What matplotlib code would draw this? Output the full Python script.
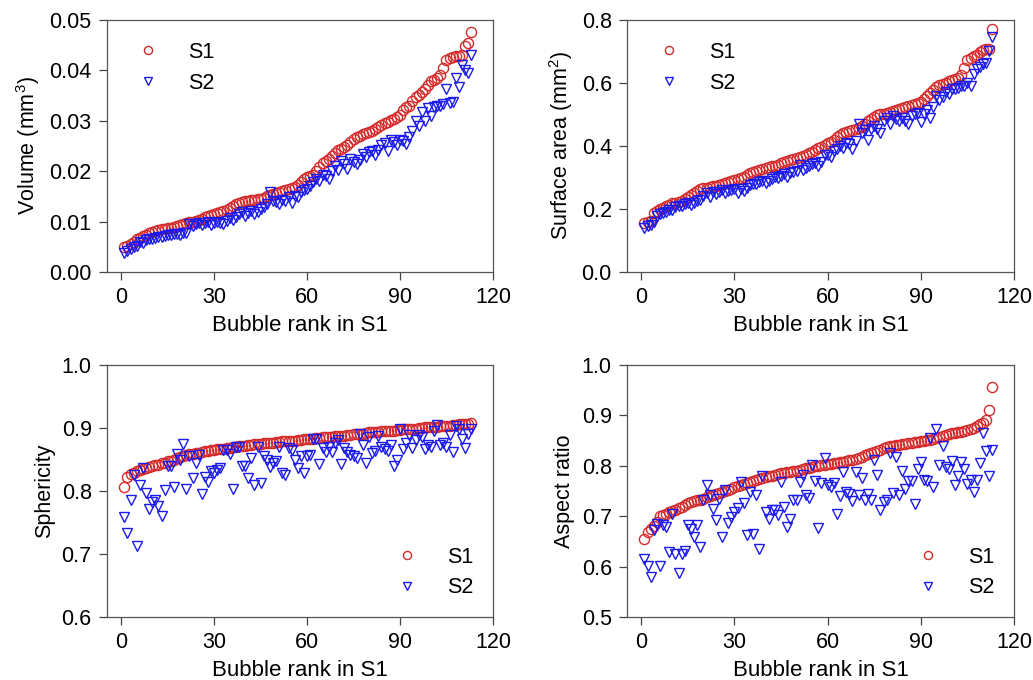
import numpy as np
import matplotlib.pyplot as plt
from matplotlib.ticker import FormatStrFormatter

plt.rcParams['font.family'] = ['Liberation Sans', 'DejaVu Sans']
plt.rcParams['mathtext.fontset'] = 'custom'
plt.rcParams['mathtext.rm'] = 'Liberation Sans'
plt.rcParams['mathtext.default'] = 'rm'

# bubble volume (mm^3), ranked by S1
vol_s1 = [0.0049, 0.0052, 0.0055, 0.0060, 0.0065, 0.0068, 0.0071, 0.0074, 0.0077, 0.0080,
          0.0082, 0.0084, 0.0085, 0.0086, 0.0087, 0.0088, 0.0090, 0.0092, 0.0093, 0.0095,
          0.0097, 0.0099, 0.0100, 0.0101, 0.0103, 0.0106, 0.0109, 0.0112, 0.0114, 0.0116,
          0.0118, 0.0120, 0.0122, 0.0124, 0.0126, 0.0130, 0.0134, 0.0137, 0.0139, 0.0140,
          0.0141, 0.0142, 0.0143, 0.0144, 0.0145, 0.0147, 0.0150, 0.0152, 0.0154, 0.0156,
          0.0158, 0.0160, 0.0162, 0.0164, 0.0166, 0.0168, 0.0172, 0.0178, 0.0184, 0.0189,
          0.0191, 0.0193, 0.0200, 0.0208, 0.0216, 0.0220, 0.0225, 0.0230, 0.0236, 0.0242,
          0.0245, 0.0248, 0.0252, 0.0258, 0.0264, 0.0268, 0.0270, 0.0273, 0.0276, 0.0278,
          0.0280, 0.0283, 0.0287, 0.0291, 0.0295, 0.0298, 0.0301, 0.0304, 0.0308, 0.0312,
          0.0322, 0.0328, 0.0329, 0.0340, 0.0348, 0.0352, 0.0358, 0.0364, 0.0372, 0.0378,
          0.0381, 0.0385, 0.0391, 0.0405, 0.0421, 0.0425, 0.0427, 0.0428, 0.0429, 0.0430,
          0.0448, 0.0455, 0.0477]
vol_s2 = [0.0037, 0.0042, 0.0046, 0.0049, 0.0052, 0.0060, 0.0058, 0.0063, 0.0066, 0.0065,
          0.0068, 0.0070, 0.0069, 0.0072, 0.0074, 0.0073, 0.0075, 0.0076, 0.0074, 0.0077,
          0.0077, 0.0096, 0.0092, 0.0096, 0.0098, 0.0093, 0.0097, 0.0099, 0.0094, 0.0098,
          0.0100, 0.0098, 0.0095, 0.0102, 0.0108, 0.0104, 0.0110, 0.0116, 0.0120, 0.0112,
          0.0118, 0.0122, 0.0115, 0.0120, 0.0125, 0.0128, 0.0135, 0.0158, 0.0140, 0.0138,
          0.0135, 0.0143, 0.0140, 0.0148, 0.0137, 0.0150, 0.0148, 0.0158, 0.0162, 0.0165,
          0.0170, 0.0178, 0.0185, 0.0180, 0.0193, 0.0190, 0.0185, 0.0200, 0.0210, 0.0203,
          0.0220, 0.0215, 0.0205, 0.0225, 0.0218, 0.0215, 0.0222, 0.0235, 0.0228, 0.0238,
          0.0240, 0.0232, 0.0242, 0.0252, 0.0255, 0.0240, 0.0262, 0.0258, 0.0252, 0.0262,
          0.0260, 0.0253, 0.0268, 0.0280, 0.0300, 0.0290, 0.0318, 0.0300, 0.0325, 0.0310,
          0.0328, 0.0330, 0.0330, 0.0333, 0.0363, 0.0335, 0.0338, 0.0385, 0.0368, 0.0410,
          0.0400, 0.0395, 0.0430]

# surface area (mm^2)
area_s1 = [0.154, 0.158, 0.162, 0.186, 0.195, 0.200, 0.204, 0.208, 0.213, 0.218,
           0.220, 0.223, 0.226, 0.232, 0.239, 0.243, 0.250, 0.256, 0.262, 0.266,
           0.268, 0.270, 0.272, 0.274, 0.276, 0.279, 0.282, 0.285, 0.289, 0.292,
           0.295, 0.298, 0.302, 0.308, 0.313, 0.316, 0.320, 0.323, 0.326, 0.329,
           0.332, 0.335, 0.338, 0.341, 0.345, 0.348, 0.351, 0.354, 0.358, 0.361,
           0.365, 0.369, 0.373, 0.378, 0.382, 0.387, 0.393, 0.398, 0.403, 0.408,
           0.414, 0.420, 0.427, 0.434, 0.440, 0.445, 0.449, 0.452, 0.454, 0.456,
           0.463, 0.470, 0.478, 0.486, 0.493, 0.497, 0.500, 0.503, 0.506, 0.509,
           0.512, 0.515, 0.518, 0.521, 0.525, 0.528, 0.531, 0.534, 0.537, 0.541,
           0.550, 0.558, 0.567, 0.578, 0.588, 0.593, 0.597, 0.601, 0.605, 0.610,
           0.613, 0.617, 0.625, 0.648, 0.673, 0.680, 0.685, 0.689, 0.697, 0.705,
           0.708, 0.707, 0.770]
area_s2 = [0.140, 0.145, 0.150, 0.160, 0.178, 0.185, 0.188, 0.192, 0.198, 0.196,
           0.205, 0.210, 0.208, 0.215, 0.220, 0.212, 0.218, 0.225, 0.230, 0.240,
           0.250, 0.238, 0.255, 0.248, 0.255, 0.260, 0.250, 0.258, 0.260, 0.262,
           0.252, 0.265, 0.258, 0.268, 0.275, 0.278, 0.280, 0.286, 0.290, 0.282,
           0.288, 0.295, 0.300, 0.298, 0.305, 0.310, 0.303, 0.315, 0.318, 0.322,
           0.340, 0.325, 0.330, 0.335, 0.342, 0.345, 0.338, 0.350, 0.370, 0.372,
           0.365, 0.385, 0.390, 0.400, 0.395, 0.410, 0.405, 0.390, 0.415, 0.470,
           0.440, 0.450, 0.420, 0.455, 0.462, 0.455, 0.440, 0.480, 0.490, 0.470,
           0.495, 0.485, 0.480, 0.490, 0.480, 0.470, 0.495, 0.500, 0.505, 0.475,
           0.500, 0.515, 0.490, 0.525, 0.560, 0.545, 0.555, 0.570, 0.565, 0.580,
           0.580, 0.585, 0.590, 0.592, 0.600, 0.590, 0.630, 0.645, 0.650, 0.660,
           0.665, 0.700, 0.745]

# sphericity
sph_s1 = [0.807, 0.822, 0.827, 0.829, 0.831, 0.833, 0.835, 0.836, 0.838, 0.839,
          0.841, 0.842, 0.844, 0.845, 0.847, 0.848, 0.850, 0.852, 0.854, 0.856,
          0.857, 0.858, 0.859, 0.860, 0.861, 0.862, 0.863, 0.864, 0.865, 0.865,
          0.866, 0.867, 0.867, 0.868, 0.869, 0.870, 0.870, 0.871, 0.871, 0.872,
          0.873, 0.873, 0.874, 0.874, 0.875, 0.876, 0.876, 0.877, 0.877, 0.878,
          0.878, 0.879, 0.879, 0.880, 0.880, 0.880, 0.881, 0.881, 0.882, 0.882,
          0.883, 0.883, 0.884, 0.884, 0.885, 0.885, 0.886, 0.886, 0.887, 0.887,
          0.888, 0.888, 0.889, 0.889, 0.890, 0.890, 0.891, 0.891, 0.892, 0.893,
          0.893, 0.894, 0.894, 0.895, 0.895, 0.895, 0.896, 0.896, 0.897, 0.897,
          0.898, 0.898, 0.899, 0.899, 0.899, 0.900, 0.900, 0.901, 0.901, 0.901,
          0.902, 0.902, 0.903, 0.903, 0.904, 0.904, 0.905, 0.905, 0.906, 0.906,
          0.907, 0.907, 0.908]
sph_s2 = [0.759, 0.733, 0.785, 0.825, 0.712, 0.810, 0.836, 0.797, 0.771, 0.782,
          0.786, 0.776, 0.760, 0.802, 0.839, 0.839, 0.807, 0.859, 0.849, 0.875,
          0.804, 0.855, 0.820, 0.844, 0.857, 0.795, 0.823, 0.815, 0.831, 0.828,
          0.833, 0.836, 0.865, 0.865, 0.859, 0.804, 0.870, 0.870, 0.839, 0.839,
          0.820, 0.852, 0.810, 0.870, 0.813, 0.856, 0.849, 0.838, 0.844, 0.847,
          0.870, 0.828, 0.825, 0.868, 0.865, 0.849, 0.836, 0.855, 0.828, 0.855,
          0.857, 0.882, 0.882, 0.843, 0.868, 0.862, 0.870, 0.862, 0.876, 0.881,
          0.843, 0.868, 0.862, 0.857, 0.855, 0.852, 0.890, 0.873, 0.844, 0.885,
          0.860, 0.864, 0.887, 0.870, 0.866, 0.864, 0.873, 0.840, 0.849, 0.898,
          0.866, 0.876, 0.889, 0.869, 0.881, 0.889, 0.886, 0.866, 0.873, 0.870,
          0.896, 0.905, 0.873, 0.876, 0.870, 0.889, 0.862, 0.903, 0.899, 0.882,
          0.869, 0.890, 0.898]

# aspect ratio
ar_s1 = [0.655, 0.668, 0.675, 0.681, 0.688, 0.700, 0.702, 0.704, 0.708, 0.711,
         0.713, 0.716, 0.719, 0.723, 0.727, 0.729, 0.731, 0.732, 0.733, 0.735,
         0.738, 0.740, 0.742, 0.744, 0.747, 0.749, 0.751, 0.753, 0.755, 0.757,
         0.759, 0.761, 0.763, 0.765, 0.767, 0.769, 0.771, 0.774, 0.776, 0.778,
         0.779, 0.780, 0.782, 0.783, 0.785, 0.786, 0.787, 0.788, 0.789, 0.790,
         0.792, 0.793, 0.795, 0.796, 0.798, 0.799, 0.800, 0.801, 0.802, 0.803,
         0.804, 0.805, 0.806, 0.807, 0.808, 0.810, 0.811, 0.812, 0.814, 0.816,
         0.818, 0.821, 0.824, 0.826, 0.828, 0.830, 0.832, 0.835, 0.837, 0.839,
         0.840, 0.841, 0.842, 0.843, 0.844, 0.845, 0.846, 0.847, 0.848, 0.849,
         0.850, 0.851, 0.852, 0.853, 0.855, 0.857, 0.859, 0.861, 0.863, 0.865,
         0.866, 0.867, 0.868, 0.869, 0.871, 0.873, 0.876, 0.879, 0.882, 0.885,
         0.890, 0.910, 0.957]
ar_s2 = [0.616, 0.601, 0.580, 0.672, 0.685, 0.601, 0.682, 0.679, 0.630, 0.705,
         0.626, 0.587, 0.625, 0.632, 0.682, 0.675, 0.659, 0.682, 0.638, 0.732,
         0.762, 0.742, 0.715, 0.693, 0.735, 0.659, 0.752, 0.687, 0.699, 0.709,
         0.717, 0.768, 0.726, 0.662, 0.748, 0.664, 0.742, 0.634, 0.779, 0.709,
         0.695, 0.713, 0.712, 0.702, 0.768, 0.719, 0.679, 0.695, 0.733, 0.732,
         0.768, 0.781, 0.742, 0.736, 0.801, 0.770, 0.677, 0.766, 0.815, 0.762,
         0.758, 0.765, 0.705, 0.740, 0.788, 0.748, 0.744, 0.730, 0.788, 0.742,
         0.775, 0.732, 0.745, 0.733, 0.811, 0.781, 0.712, 0.728, 0.733, 0.826,
         0.746, 0.817, 0.742, 0.790, 0.755, 0.770, 0.770, 0.724, 0.793, 0.808,
         0.772, 0.770, 0.856, 0.758, 0.874, 0.801, 0.839, 0.797, 0.793, 0.810,
         0.762, 0.779, 0.808, 0.793, 0.764, 0.772, 0.748, 0.772, 0.806, 0.866,
         0.830, 0.779, 0.832]

rank = np.arange(1, len(vol_s1) + 1)

# data, y label, y range, tick step, tick format, legend placement
panels = [
    (vol_s1, vol_s2, 'Volume (mm$^{3}$)', (0, 0.05), 0.01, '%.2f', ('upper left', (0.0505, 0.913))),
    (area_s1, area_s2, 'Surface area (mm$^{2}$)', (0, 0.8), 0.2, '%.1f', ('upper left', (0.054, 0.913))),
    (sph_s1, sph_s2, 'Sphericity', (0.6, 1.0), 0.1, '%.1f', ('lower left', (0.722, 0.074))),
    (ar_s1, ar_s2, 'Aspect ratio', (0.5, 1.0), 0.1, '%.1f', ('lower left', (0.722, 0.074))),
]
boxes = [
    [0.1036, 0.600, 0.3736, 0.3706],
    [0.6070, 0.600, 0.3746, 0.3706],
    [0.1036, 0.0926, 0.3736, 0.3706],
    [0.6070, 0.0926, 0.3746, 0.3706],
]

red = '#d42a2a'
blue = '#1a1aee'

fig = plt.figure(figsize=(10.33, 6.8), dpi=100)
for (s1, s2, ylab, ylim, step, fmt, (loc, anchor)), box in zip(panels, boxes):
    ax = fig.add_axes(box)
    ax.plot(rank, s1, 'o', ms=7.3, mfc='none', mec=red, mew=1.0, label='S1')
    ax.plot(rank, s2, 'v', ms=7.8, mfc='none', mec=blue, mew=1.0, label='S2')
    ax.set_xlim(-4.6, 120)
    ax.set_ylim(*ylim)
    ax.set_xticks([0, 30, 60, 90, 120])
    ax.set_yticks(np.arange(ylim[0], ylim[1] + step / 2, step))
    ax.yaxis.set_major_formatter(FormatStrFormatter(fmt))
    ax.tick_params(direction='out', length=6, width=0.9, color='#444444',
                   labelsize=15.5, pad=5, top=False, right=False)
    for sp in ax.spines.values():
        sp.set_color('#555555')
        sp.set_linewidth(0.9)
    ax.set_xlabel('Bubble rank in S1', fontsize=16, labelpad=5)
    ax.set_ylabel(ylab, fontsize=15.5, labelpad=5)
    ax.legend(loc=loc, bbox_to_anchor=anchor, frameon=False, fontsize=15.5,
              markerscale=0.8, handlelength=2.0, handletextpad=0.86,
              borderaxespad=0, borderpad=0, labelspacing=0.45)

fig.savefig('out.png', dpi=100)
